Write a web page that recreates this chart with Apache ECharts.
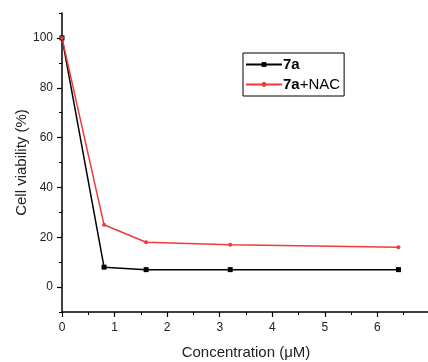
<!DOCTYPE html>
<html>
<head>
<meta charset="utf-8">
<script src="https://cdn.jsdelivr.net/npm/echarts@6/dist/echarts.min.js"></script>
<style>html,body{margin:0;padding:0;background:#fff;}#c{width:428px;height:362px;}</style>
</head>
<body>
<div id="c"></div>
<script>
const concentrations = [0, 0.8, 1.6, 3.2, 6.4];
const viability7a = [100, 8, 7, 7, 7];
const viability7aNAC = [100, 25, 18, 17, 16];
const seriesNames = ['7a', '7a+NAC'];
const yTickLabels = [0, 20, 40, 60, 80, 100];

const chart = echarts.init(document.getElementById('c'));
const font = 'Liberation Sans, Arial, sans-serif';
chart.setOption({
  animation: false,
  backgroundColor: '#fff',
  grid: {left: 62, right: -2, top: 13, bottom: 50, containLabel: false, outerBoundsMode: 'none'},
  legend: {
    left: 243, top: 53, orient: 'vertical',
    data: seriesNames,
    itemWidth: 36, itemHeight: 6, itemGap: 5,
    padding: [4, 4, 4, 2],
    borderColor: '#000', borderWidth: 1, borderRadius: 0,
    backgroundColor: '#fff',
    formatter: function (n) { return n === '7a' ? '{b|7a}' : '{b|7a}+NAC'; },
    textStyle: {fontFamily: font, fontSize: 15, color: '#000', padding: [0, 0, 0, -4],
      rich: {b: {fontWeight: 'bold', fontSize: 15, fontFamily: font, color: '#000'}}}
  },
  xAxis: {
    type: 'value', min: 0, max: 7, interval: 1,
    name: 'Concentration (\u03bcM)', nameLocation: 'middle', nameGap: 33,
    nameTextStyle: {fontFamily: font, fontSize: 15, color: '#222'},
    axisLine: {onZero: false, lineStyle: {color: '#000', width: 1.5}},
    axisTick: {show: true, inside: false, length: 5, lineStyle: {color: '#000', width: 1.2}},
    minorTick: {show: true, splitNumber: 2, length: 3, lineStyle: {color: '#000', width: 1}},
    axisLabel: {fontFamily: font, fontSize: 12, color: '#222', margin: 10,
      formatter: function (v) { return v >= 7 ? '' : v; }},
    splitLine: {show: false}
  },
  yAxis: [{
    type: 'value', min: -10, max: 110, interval: 10,
    name: 'Cell viability (%)', nameLocation: 'middle', nameGap: 33, nameMoveOverlap: false,
    nameTextStyle: {fontFamily: font, fontSize: 15, color: '#222'},
    axisLine: {show: true, onZero: false, lineStyle: {color: '#000', width: 1.5}},
    axisTick: {show: true, length: 5, customValues: yTickLabels, lineStyle: {color: '#000', width: 1.2}},
    axisLabel: {fontFamily: font, fontSize: 12, color: '#222', margin: 9, customValues: yTickLabels},
    splitLine: {show: false}
  }, {
    type: 'value', min: -10, max: 110, interval: 10, position: 'left',
    axisLine: {show: false},
    axisTick: {show: true, length: 3, lineStyle: {color: '#000', width: 1}},
    axisLabel: {show: false},
    splitLine: {show: false}
  }],
  series: [
    {
      name: seriesNames[0], type: 'line',
      data: concentrations.map((c, i) => [c, viability7a[i]]),
      symbol: 'rect', symbolSize: 5, showSymbol: true,
      lineStyle: {color: '#000', width: 1.5},
      itemStyle: {color: '#000'}
    },
    {
      name: seriesNames[1], type: 'line',
      data: concentrations.map((c, i) => [c, viability7aNAC[i]]),
      symbol: 'circle', symbolSize: 4, showSymbol: true,
      lineStyle: {color: '#ee3b3b', width: 1.5},
      itemStyle: {color: '#ee3b3b'}
    }
  ]
});
</script>
</body>
</html>
